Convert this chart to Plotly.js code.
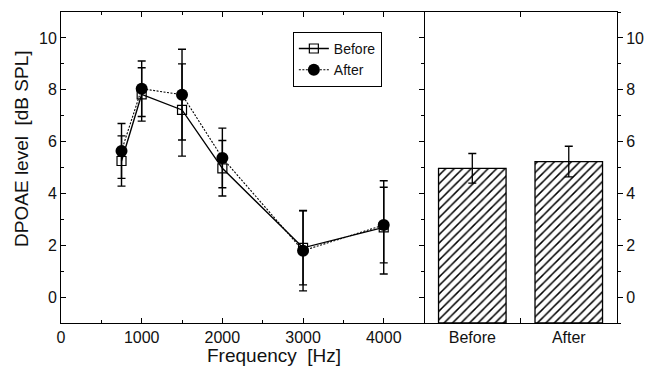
<!DOCTYPE html>
<html>
<head>
<meta charset="utf-8">
<script src="https://cdn.plot.ly/plotly-3.0.1.min.js"></script>
<style>html,body{margin:0;padding:0;background:#fff;}#chart{width:654px;height:369px;}</style>
</head>
<body>
<div id="chart"></div>
<script>
// Left panel: DPOAE level vs frequency
var freq = [750, 1000, 1500, 2000, 3000, 4000];
var beforeVals = [5.25, 7.82, 7.22, 4.97, 1.90, 2.69];
var beforeErr = [0.97, 1.03, 1.78, 1.07, 1.43, 1.80];
var afterVals = [5.64, 8.04, 7.81, 5.37, 1.79, 2.78];
var afterErr = [1.06, 1.07, 1.75, 1.15, 1.55, 1.46];

// Right panel: averages (bars are drawn up from the bottom of the axis, -1)
var barLabels = ['Before', 'After'];
var barVals = [4.97, 5.23];
var barErr = [0.57, 0.59];
var barBase = -1;

var xTickVals = [0, 1000, 2000, 3000, 4000];
var yTickVals = [0, 2, 4, 6, 8, 10];

var FONT = 'Liberation Sans, Arial, sans-serif';
var barPos = barLabels.map(function (_, i) { return i; });

var traces = [
  {
    type: 'scatter', mode: 'lines+markers', name: 'Before',
    x: freq, y: beforeVals,
    line: {color: 'black', width: 1.4},
    marker: {symbol: 'square-open', size: 9, color: 'black', line: {width: 1.2}},
    error_y: {type: 'data', array: beforeErr, visible: true, color: 'black', thickness: 1.4, width: 4},
    xaxis: 'x', yaxis: 'y'
  },
  {
    type: 'scatter', mode: 'lines+markers', name: 'After',
    x: freq, y: afterVals,
    line: {color: 'black', width: 1.1, dash: '2px,1.5px'},
    marker: {symbol: 'circle', size: 12, color: 'black'},
    error_y: {type: 'data', array: afterErr, visible: true, color: 'black', thickness: 1.4, width: 4},
    xaxis: 'x', yaxis: 'y'
  },
  {
    type: 'bar', x: barPos, base: barBase,
    y: barVals.map(function (v) { return v - barBase; }),
    width: 0.7, showlegend: false,
    marker: {color: 'white', line: {color: 'black', width: 1.3},
             pattern: {shape: '/', fgcolor: 'black', bgcolor: 'white', size: 6, solidity: 0.25}},
    error_y: {type: 'data', array: barErr, visible: true, color: 'black', thickness: 1.3, width: 4},
    xaxis: 'x2', yaxis: 'y2'
  }
];

var split = 0.653;
var layout = {
  width: 654, height: 369,
  margin: {l: 61, r: 37, t: 12, b: 46},
  paper_bgcolor: 'white', plot_bgcolor: 'white',
  font: {family: FONT, size: 16, color: '#111'},
  showlegend: true,
  legend: {
    x: 0.417, y: 0.936, xanchor: 'left', yanchor: 'top',
    bgcolor: 'white', bordercolor: 'black', borderwidth: 1,
    font: {family: FONT, size: 14, color: '#111'},
    tracegroupgap: 0
  },
  xaxis: {
    domain: [0, split], range: [0, 4500], anchor: 'y',
    tickvals: xTickVals, ticks: 'inside', ticklen: 5, tickcolor: 'black',
    minor: {dtick: 500, ticks: 'inside', ticklen: 3, tickcolor: 'black'},
    showline: true, linecolor: 'black', linewidth: 1, mirror: 'ticks',
    showgrid: false, zeroline: false
  },
  yaxis: {
    range: [-1, 11], anchor: 'x',
    tickvals: yTickVals, ticks: 'inside', ticklen: 5, tickcolor: 'black',
    minor: {dtick: 1, ticks: 'inside', ticklen: 3, tickcolor: 'black'},
    showline: true, linecolor: 'black', linewidth: 1, mirror: 'ticks',
    showgrid: false, zeroline: false
  },
  xaxis2: {
    domain: [split, 1], range: [-0.5, 1.5], anchor: 'y2',
    tickvals: barPos, ticktext: barLabels, ticks: 'inside', ticklen: 0,
    minor: {tickmode: 'array', tickvals: [0.5], ticks: 'inside', ticklen: 5, tickcolor: 'black'},
    showline: true, linecolor: 'black', linewidth: 1, mirror: 'ticks',
    showgrid: false, zeroline: false
  },
  yaxis2: {
    range: [-1, 11], anchor: 'x2', side: 'right',
    tickvals: yTickVals, ticks: 'outside', ticklen: 5, tickcolor: 'black',
    minor: {dtick: 1, ticks: 'outside', ticklen: 3, tickcolor: 'black'},
    showline: true, linecolor: 'black', linewidth: 1, mirror: false,
    showgrid: false, zeroline: false
  },
  annotations: [
    {text: 'Frequency\u00a0\u00a0[Hz]', xref: 'paper', yref: 'paper', x: 0.383, y: -0.106,
     xanchor: 'center', yanchor: 'middle', showarrow: false, font: {family: FONT, size: 19, color: '#111'}},
    {text: 'DPOAE level\u00a0\u00a0[dB SPL]', xref: 'paper', yref: 'paper', x: -0.07, y: 0.56,
     xanchor: 'center', yanchor: 'middle', textangle: -90, showarrow: false, font: {family: FONT, size: 19, color: '#111'}}
  ]
};

Plotly.newPlot('chart', traces, layout, {displayModeBar: false, staticPlot: true});
</script>
</body>
</html>
